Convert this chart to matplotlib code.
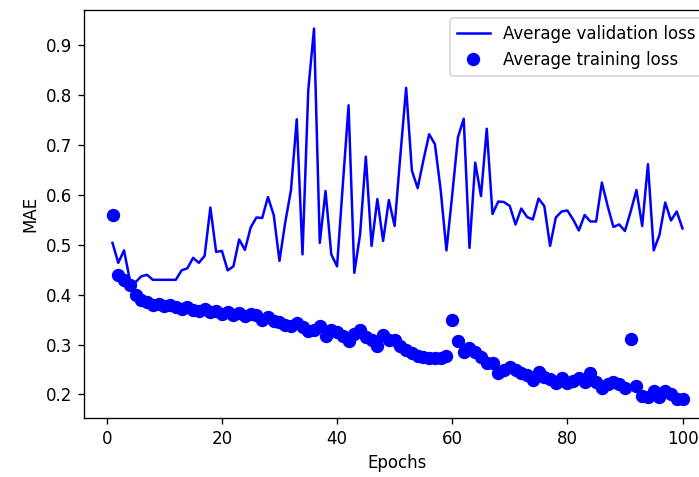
import matplotlib
matplotlib.use("Agg")
import matplotlib.pyplot as plt

# average per-epoch losses
epochs = list(range(1, 101))

val_mae = [
    0.504, 0.464, 0.489, 0.430, 0.425, 0.437, 0.440, 0.430, 0.430, 0.430,
    0.430, 0.430, 0.449, 0.453, 0.474, 0.464, 0.478, 0.575, 0.486, 0.488,
    0.449, 0.457, 0.511, 0.490, 0.535, 0.555, 0.554, 0.596, 0.560, 0.468,
    0.545, 0.610, 0.752, 0.481, 0.810, 0.934, 0.504, 0.608, 0.481, 0.457,
    0.620, 0.780, 0.444, 0.521, 0.677, 0.498, 0.592, 0.508, 0.590, 0.538,
    0.680, 0.815, 0.649, 0.614, 0.670, 0.722, 0.702, 0.610, 0.489, 0.600,
    0.716, 0.753, 0.494, 0.665, 0.598, 0.733, 0.562, 0.587, 0.586, 0.578,
    0.541, 0.573, 0.556, 0.551, 0.593, 0.578, 0.498, 0.555, 0.567, 0.569,
    0.551, 0.529, 0.560, 0.547, 0.547, 0.625, 0.578, 0.536, 0.541, 0.528,
    0.567, 0.610, 0.538, 0.662, 0.489, 0.520, 0.585, 0.549, 0.567, 0.533,
]

train_mae = [
    0.560, 0.440, 0.430, 0.420, 0.400, 0.390, 0.385, 0.380, 0.382, 0.378,
    0.380, 0.376, 0.372, 0.375, 0.370, 0.368, 0.372, 0.365, 0.367, 0.362,
    0.366, 0.360, 0.364, 0.358, 0.362, 0.360, 0.350, 0.355, 0.348, 0.345,
    0.340, 0.338, 0.343, 0.335, 0.327, 0.330, 0.337, 0.317, 0.330, 0.325,
    0.318, 0.307, 0.322, 0.330, 0.315, 0.310, 0.297, 0.320, 0.310, 0.310,
    0.297, 0.290, 0.283, 0.278, 0.276, 0.274, 0.274, 0.273, 0.278, 0.350,
    0.308, 0.285, 0.293, 0.286, 0.275, 0.263, 0.263, 0.243, 0.250, 0.256,
    0.250, 0.243, 0.240, 0.230, 0.246, 0.236, 0.232, 0.223, 0.234, 0.223,
    0.228, 0.234, 0.226, 0.243, 0.226, 0.213, 0.222, 0.226, 0.220, 0.213,
    0.311, 0.216, 0.196, 0.195, 0.206, 0.195, 0.206, 0.200, 0.190, 0.190,
]

W, H, DPI = 699, 477, 120
fig = plt.figure(figsize=(W / DPI, H / DPI), dpi=DPI)
# axes run past the right edge, like the cropped original
ax = fig.add_axes([84 / W, (H - 418) / H, (711 - 84) / W, (418 - 10) / H])

ax.plot(epochs, val_mae, "b", lw=1.5, label="Average validation loss")
ax.plot(epochs, train_mae, "bo", ms=7, label="Average training loss")
ax.set_xlabel("Epochs")
ax.set_ylabel("MAE")
ax.legend(loc="upper right")

fig.savefig("out.png", dpi=DPI)
plt.close(fig)
